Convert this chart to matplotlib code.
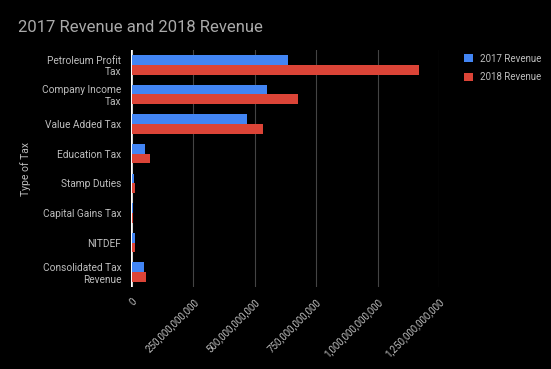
import numpy as np
import matplotlib
matplotlib.use("Agg")
import matplotlib.pyplot as plt
from matplotlib.ticker import FuncFormatter

categories = ["Petroleum Profit\nTax", "Company Income\nTax", "Value Added Tax",
              "Education Tax", "Stamp Duties", "Capital Gains Tax", "NITDEF",
              "Consolidated Tax\nRevenue"]
rev_2017 = [635e9, 552e9, 467e9, 53e9, 8e9, 5e9, 12e9, 50e9]
rev_2018 = [1168e9, 677e9, 535e9, 76e9, 12e9, 4e9, 12e9, 58e9]
xticks = [0, 250e9, 500e9, 750e9, 1000e9, 1250e9]

plt.rcParams['font.family'] = ['Roboto', 'DejaVu Sans']
txt = '#bdbdbd'
blue = '#4285F4'
red = '#DB4437'

fig = plt.figure(figsize=(5.51, 3.69), dpi=100, facecolor='black')
ax = fig.add_axes([131/551, 1 - 287/369, (439-131)/551, (287-50)/369])
ax.set_facecolor('black')

y = np.arange(len(categories))
h = 0.33
ax.barh(y - h/2, rev_2017, height=h, color=blue, zorder=3, label='2017 Revenue')
ax.barh(y + h/2, rev_2018, height=h, color=red, zorder=3, label='2018 Revenue')
# darker bottom edge for the 3D look
ax.barh(y - h/2 + h*0.4, rev_2017, height=h*0.2, color='#2a5db0', zorder=2.9)
ax.barh(y + h/2 + h*0.4, rev_2018, height=h*0.2, color='#9c2f25', zorder=2.9)

ax.set_ylim(len(categories) - 0.5, -0.5)
ax.set_xlim(-3e9, 1250e9)
ax.set_yticks(y)
ax.set_yticklabels(categories, color=txt, fontsize=7.3)
ax.set_xticks(xticks)
ax.xaxis.set_major_formatter(FuncFormatter(lambda v, p: f"{int(v):,}"))
for lab in ax.get_xticklabels():
    lab.set_rotation(45)
    lab.set_ha('right')
    lab.set_rotation_mode('anchor')
    lab.set_color(txt)
    lab.set_fontsize(7)
ax.tick_params(length=0, pad=7)
ax.grid(axis='x', color='#444444', lw=0.8, zorder=0)
for s in ax.spines.values():
    s.set_visible(False)
ax.axvline(-2e9, color='white', lw=1.8, zorder=2.5)

ax.set_ylabel('Type of Tax', color=txt, fontsize=7.5)
ax.yaxis.set_label_coords(-100/308, 0.5)

fig.text(18/551, 1 - 27/369, '2017 Revenue and 2018 Revenue', color='#aaaaaa',
         fontsize=12, va='center', ha='left')

leg = ax.legend(loc='upper left', bbox_to_anchor=(455/551, 1 - 45/369),
                bbox_transform=fig.transFigure, frameon=False, fontsize=7,
                handlelength=0.9, handleheight=0.9, labelspacing=0.9)
for t in leg.get_texts():
    t.set_color(txt)

fig.savefig('out.png', dpi=100, facecolor='black')
